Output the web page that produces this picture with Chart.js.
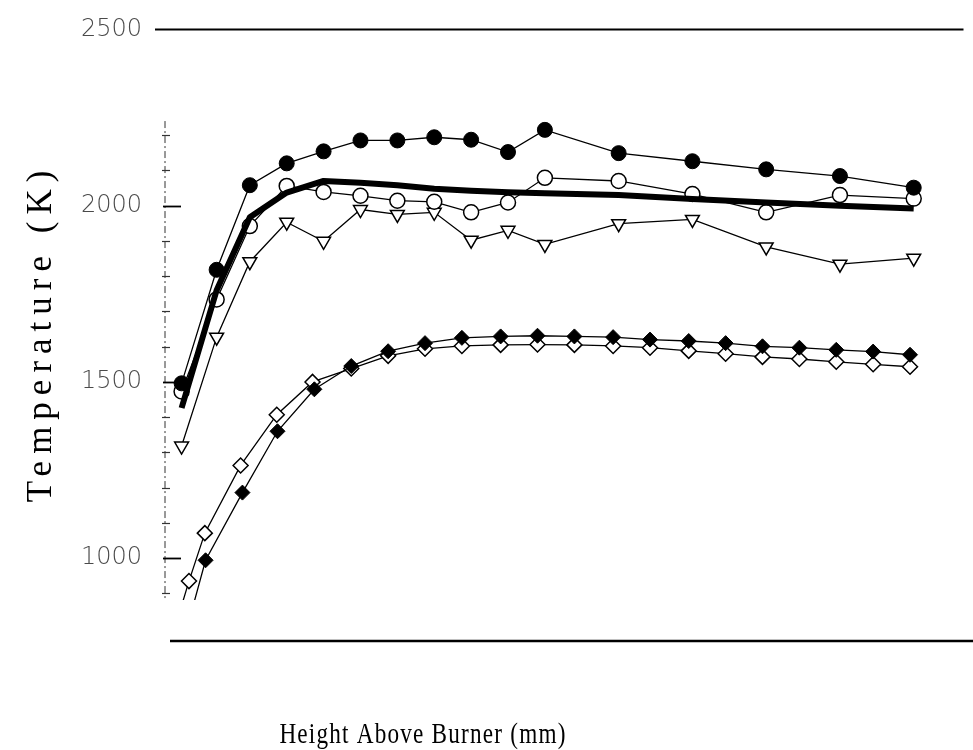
<!DOCTYPE html>
<html>
<head>
<meta charset="utf-8">
<title>Temperature vs Height Above Burner</title>
<script src="https://cdn.jsdelivr.net/npm/chart.js@4.4.1/dist/chart.umd.min.js"></script>
<style>
  html, body { margin: 0; padding: 0; background: #fff; }
  #divCanvas { position: relative; width: 973px; height: 750px; }
</style>
</head>
<body>
<div id="divCanvas"><canvas id="graficoTemperatura"></canvas></div>
<script>
// heights (mm) of the circle / triangle profiles and of the model curve
var heightProfile = [0.45, 1.4, 2.3, 3.3, 4.3, 5.3, 6.3, 7.3, 8.3, 9.3, 10.3, 12.3, 14.3, 16.3, 18.3, 20.3];
var tempFilledCircle = [1496, 1818, 2058, 2120, 2154, 2185, 2185, 2194, 2187, 2152, 2215, 2149, 2126, 2103, 2084, 2051];
var tempOpenCircle = [1473, 1734, 1942, 2056, 2039, 2028, 2014, 2011, 1981, 2009, 2079, 2070, 2033, 1981, 2030, 2020];
var tempTriangle = [1318, 1627, 1841, 1953, 1899, 1989, 1975, 1981, 1902, 1930, 1890, 1949, 1961, 1883, 1834, 1851];
var tempModel = [1426, 1760, 1967, 2037, 2070, 2065, 2058, 2048, 2042, 2038, 2035, 2030, 2019, 2009, 2000, 1992];

// diamond profiles (1 mm steps)
var heightFilledDiamond = [0.15, 1.1, 2.1, 3.05, 4.05, 5.05, 6.05, 7.05, 8.05, 9.1, 10.1, 11.1, 12.15, 13.15, 14.2, 15.2, 16.2, 17.2, 18.2, 19.2, 20.2];
var tempFilledDiamond = [630, 994, 1186, 1360, 1479, 1545, 1587, 1610, 1625, 1629, 1631, 1629, 1627, 1620, 1616, 1610, 1601, 1597, 1591, 1586, 1577];
var heightOpenDiamond = [0.15, 0.65, 1.08, 2.05, 3.03, 4.0, 5.05, 6.05, 7.05, 8.05, 9.1, 10.1, 11.1, 12.15, 13.15, 14.2, 15.2, 16.2, 17.2, 18.2, 19.2, 20.2];
var tempOpenDiamond = [760, 935, 1071, 1263, 1407, 1500, 1538, 1574, 1594, 1602, 1605, 1606, 1605, 1602, 1597, 1588, 1580, 1571, 1565, 1557, 1550, 1543];

// axis
var yTickLabels = [1000, 1500, 2000, 2500];
var yMajorTicks = [1000, 1500, 2000];
var yMinorTicks = [900, 1100, 1200, 1300, 1400, 1600, 1700, 1800, 1900, 2100, 2200];
var yAxisSpan = [880, 2240];
var yTitle = "Temperature (K)";
var xTitle = "Height Above Burner (mm)";

function pontos(xs, ys) {
	var out = [];
	for (var i = 0; i < xs.length; i++) {
		out.push({ x: xs[i], y: ys[i] });
	}
	return out;
}

// clip diamonds a bit above the bottom rule, like the original plot
var clipDiamond = { left: 0, top: 0, right: 0, bottom: -41 };

var frame = {
	id: 'frame',
	afterDraw: function (chart) {
		var ctx = chart.ctx;
		var area = chart.chartArea;
		var y = chart.scales.y;
		ctx.save();
		ctx.strokeStyle = '#000';

		// top rule at 2500
		ctx.lineWidth = 2;
		ctx.beginPath();
		ctx.moveTo(area.left - 10, y.getPixelForValue(2500));
		ctx.lineTo(area.right, y.getPixelForValue(2500));
		ctx.stroke();

		// bottom rule
		ctx.lineWidth = 2.5;
		ctx.beginPath();
		ctx.moveTo(area.left + 5, area.bottom);
		ctx.lineTo(chart.width, area.bottom);
		ctx.stroke();

		// dashed y axis
		ctx.lineWidth = 1;
		ctx.strokeStyle = '#333';
		ctx.setLineDash([7, 3, 2, 3]);
		ctx.beginPath();
		ctx.moveTo(area.left, y.getPixelForValue(yAxisSpan[1]));
		ctx.lineTo(area.left, y.getPixelForValue(yAxisSpan[0]));
		ctx.stroke();
		ctx.setLineDash([]);

		// ticks
		ctx.lineWidth = 1.2;
		yMinorTicks.forEach(function (v) {
			var py = Math.round(y.getPixelForValue(v)) + 0.5;
			ctx.beginPath();
			ctx.moveTo(area.left - 3, py);
			ctx.lineTo(area.left + 5, py);
			ctx.stroke();
		});
		ctx.strokeStyle = '#000';
		ctx.lineWidth = 1.8;
		yMajorTicks.forEach(function (v) {
			var py = Math.round(y.getPixelForValue(v)) + 0.5;
			ctx.beginPath();
			ctx.moveTo(area.left - 2, py);
			ctx.lineTo(area.left + 16, py);
			ctx.stroke();
		});

		// axis titles
		ctx.fillStyle = '#000';
		ctx.textAlign = 'center';
		ctx.save();
		ctx.translate(42, 333);
		ctx.rotate(-Math.PI / 2);
		ctx.font = '35px "Liberation Serif", "DejaVu Serif", serif';
		ctx.letterSpacing = '7px';
		ctx.textBaseline = 'middle';
		ctx.fillText(yTitle, 0, 0);
		ctx.restore();

		ctx.save();
		ctx.translate(423, 743);
		ctx.scale(0.8, 1);
		ctx.font = '29px "Liberation Serif", "DejaVu Serif", serif';
		ctx.letterSpacing = '1.5px';
		ctx.textBaseline = 'alphabetic';
		ctx.fillText(xTitle, 0, 0);
		ctx.restore();

		ctx.restore();
	}
};

var thin = 1.3;

var grafico = new Chart(document.getElementById('graficoTemperatura'), {
	type: 'line',
	data: {
		datasets: [
			{
				data: pontos(heightProfile, tempFilledCircle),
				borderColor: '#000', borderWidth: thin,
				pointStyle: 'circle', pointRadius: 7.5,
				pointBackgroundColor: '#000', pointBorderColor: '#000', pointBorderWidth: 1
			},
			{
				data: pontos(heightProfile, tempModel),
				borderColor: '#000', borderWidth: 6,
				borderJoinStyle: 'round', borderCapStyle: 'butt',
				pointRadius: 0
			},
			{
				data: pontos(heightProfile, tempOpenCircle),
				borderColor: '#000', borderWidth: thin,
				pointStyle: 'circle', pointRadius: 7.5,
				pointBackgroundColor: '#fff', pointBorderColor: '#000', pointBorderWidth: 1.5
			},
			{
				data: pontos(heightProfile, tempTriangle),
				borderColor: '#000', borderWidth: thin,
				pointStyle: 'triangle', pointRotation: 180, pointRadius: 8,
				pointBackgroundColor: '#fff', pointBorderColor: '#000', pointBorderWidth: 1.5
			},
			{
				data: pontos(heightFilledDiamond, tempFilledDiamond),
				borderColor: '#000', borderWidth: thin,
				pointStyle: 'rectRot', pointRadius: 7.5,
				pointBackgroundColor: '#000', pointBorderColor: '#000', pointBorderWidth: 1,
				clip: clipDiamond
			},
			{
				data: pontos(heightOpenDiamond, tempOpenDiamond),
				borderColor: '#000', borderWidth: thin,
				pointStyle: 'rectRot', pointRadius: 7.5,
				pointBackgroundColor: '#fff', pointBorderColor: '#000', pointBorderWidth: 1.5,
				clip: clipDiamond
			}
		]
	},
	options: {
		responsive: true,
		maintainAspectRatio: false,
		animation: false,
		layout: { padding: { top: 21, right: 7, bottom: 109, left: 0 } },
		plugins: {
			legend: { display: false },
			tooltip: { enabled: false }
		},
		scales: {
			x: {
				type: 'linear',
				min: 0,
				max: 21.65,
				display: false
			},
			y: {
				type: 'linear',
				min: 765,
				max: 2500,
				grid: { display: false },
				border: { display: false },
				afterFit: function (scale) { scale.width = 165; },
				afterBuildTicks: function (scale) {
					scale.ticks = yTickLabels.map(function (v) { return { value: v }; });
				},
				ticks: {
					padding: 15,
					color: '#4a4a4a',
					font: { family: '"DejaVu Sans", sans-serif', size: 24, weight: 300 },
					callback: function (v) { return String(v); }
				}
			}
		}
	},
	plugins: [frame]
});
</script>
</body>
</html>
